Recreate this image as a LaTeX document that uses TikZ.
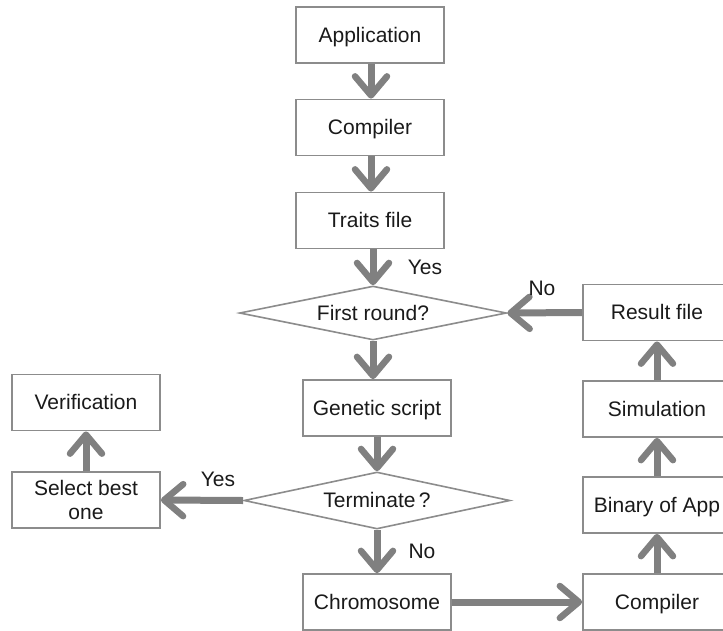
\documentclass[tikz,border=0pt]{standalone}
\usepackage{fontspec}
\setmainfont{Liberation Sans}
\usetikzlibrary{shapes.geometric,arrows.meta}
\definecolor{boxline}{HTML}{8C8C8C}
\definecolor{arrowcol}{HTML}{808080}
\definecolor{txt}{HTML}{1A1A1A}
\tikzset{
  box/.style={draw=boxline, line width=1.8pt, fill=white, minimum width=148pt, minimum height=56pt, inner sep=2pt, align=center, text=txt, text height=15pt, text depth=1pt, font=\fontsize{21}{23.5}\selectfont},
  decision/.style={diamond, draw=boxline, line width=1.6pt, fill=white, aspect=4.9, inner sep=0pt, text=txt, text height=15pt, text depth=1pt, font=\fontsize{21}{23.5}\selectfont},
  flow/.style={draw=arrowcol, line width=7pt, -{Straight Barb[length=19pt, width=32pt, line width=6.5pt, round]}},
  lbl/.style={text=txt, font=\fontsize{21}{23.5}\selectfont},
}
\begin{document}
\begin{tikzpicture}[x=1pt, y=-1pt]
\useasboundingbox (0,0) rectangle (723,630);
\node[box] (app) at (370,35) {Application};
\node[box] (comp1) at (370,127.5) {Compiler};
\node[box] (traits) at (370,220.5) {Traits file};
\node[decision, minimum width=267pt, minimum height=54pt] (first) at (373,313) {First round?};
\node[box] (gen) at (377,408) {Genetic script};
\node[decision, minimum width=266pt, minimum height=57pt] (term) at (377,500.5) {Terminate\,?};
\node[box] (chrom) at (377,602) {Chromosome};
\node[box, text height=, text depth=] (select) at (86,500) {Select best\\one};
\node[box] (verif) at (86,402.5) {Verification};
\node[box] (comp2) at (657,602) {Compiler};
\node[box] (binary) at (657,505) {Binary of App};
\node[box] (sim) at (657,409) {Simulation};
\node[box] (result) at (657,312.5) {Result file};

\draw[flow] (app.south -| 371,0) -- (comp1.north -| 371,0);
\draw[flow] (comp1.south -| 371,0) -- (traits.north -| 371,0);
\draw[flow] (traits.south -| 373,0) -- (first.north);
\draw[flow] (first.south) -- (gen.north -| first.south);
\draw[flow] (gen.south) -- (term.north);
\draw[flow] (term.south) -- (chrom.north);
\draw[flow] (chrom.east) -- (comp2.west);
\draw[flow] (comp2.north) -- (binary.south);
\draw[flow] (binary.north) -- (sim.south);
\draw[flow] (sim.north) -- (result.south);
\draw[flow] (result.west) -- (first.east);
\draw[flow] (term.west) -- (select.east);
\draw[flow] (select.north) -- (verif.south);

\node[lbl] (yes1) at (425,267) {Yes};
\node[lbl] (no1) at (542,288) {No};
\node[lbl] (yes2) at (218,479) {Yes};
\node[lbl] (no2) at (422,551) {No};
\end{tikzpicture}
\end{document}
